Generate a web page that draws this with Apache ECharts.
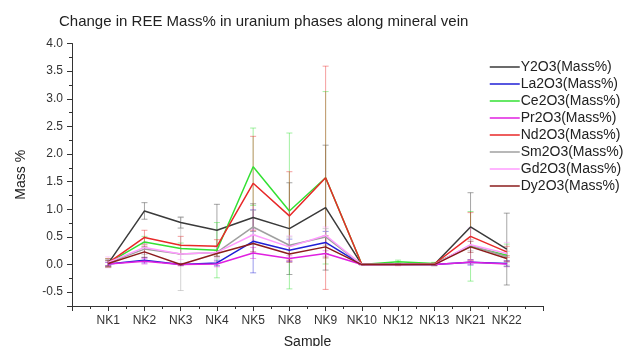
<!DOCTYPE html>
<html>
<head>
<meta charset="utf-8">
<script src="https://cdn.jsdelivr.net/npm/echarts@6/dist/echarts.min.js"></script>
<style>html,body{margin:0;padding:0;background:#fff}#c{width:635px;height:346px}</style>
</head>
<body>
<div id="c"></div>
<script>
const categories = ['NK1','NK2','NK3','NK4','NK5','NK8','NK9','NK10','NK12','NK13','NK21','NK22'];
const seriesNames = ['Y2O3(Mass%)','La2O3(Mass%)','Ce2O3(Mass%)','Pr2O3(Mass%)','Nd2O3(Mass%)','Sm2O3(Mass%)','Gd2O3(Mass%)','Dy2O3(Mass%)'];

const Y2O3  = [0.02, 0.97, 0.76, 0.62, 0.85, 0.65, 1.03, 0, 0, 0, 0.68, 0.28];
const Y2O3Err = [0.06, 0.15, 0.10, 0.47, 0.25, 0.83, 1.13, 0, 0.01, 0.02, 0.62, 0.65];
const La2O3 = [0.01, 0.08, 0.00, 0.03, 0.42, 0.26, 0.40, 0, 0, 0, 0.04, 0.02];
const La2O3Err = [0.03, 0.05, 0, 0.05, 0.57, 0.20, 0.20, 0, 0, 0, 0.05, 0.05];
const Ce2O3 = [0.03, 0.41, 0.29, 0.26, 1.77, 0.97, 1.57, 0, 0.05, 0.02, 0.33, 0.17];
const Ce2O3Err = [0.08, 0.10, 0.10, 0.50, 0.70, 1.41, 1.56, 0, 0.03, 0.02, 0.63, 0.20];
const Pr2O3 = [0.01, 0.06, 0.00, 0.01, 0.21, 0.11, 0.20, 0, 0, 0, 0.04, 0.01];
const Pr2O3Err = [0.03, 0.05, 0.02, 0.05, 0.10, 0.05, 0.05, 0, 0, 0, 0.04, 0.05];
const Nd2O3 = [0.03, 0.49, 0.35, 0.33, 1.47, 0.88, 1.57, 0, 0, 0.01, 0.51, 0.23];
const Nd2O3Err = [0.08, 0.13, 0.16, 0.12, 0.85, 0.80, 2.02, 0, 0.02, 0.02, 0.43, 0.10];
const Sm2O3 = [0.03, 0.28, 0.19, 0.22, 0.68, 0.35, 0.50, 0, 0, 0, 0.35, 0.14];
const Sm2O3Err = [0.06, 0.10, 0.66, 0.10, 0.30, 0.15, 0.15, 0, 0, 0, 0.10, 0.10];
const Gd2O3 = [0.04, 0.31, 0.19, 0.22, 0.54, 0.32, 0.53, 0, 0, 0, 0.36, 0.20];
const Gd2O3Err = [0.10, 0.10, 0.10, 0.10, 0.10, 0.20, 0.15, 0, 0, 0, 0.30, 0.20];
const Dy2O3 = [0.02, 0.23, 0.00, 0.20, 0.38, 0.19, 0.32, 0, 0, 0, 0.32, 0.11];
const Dy2O3Err = [0.05, 0.10, 0.02, 0.05, 0.15, 0.15, 0.20, 0, 0.01, 0.02, 0.10, 0.05];

const values = [Y2O3, La2O3, Ce2O3, Pr2O3, Nd2O3, Sm2O3, Gd2O3, Dy2O3];
const errors = [Y2O3Err, La2O3Err, Ce2O3Err, Pr2O3Err, Nd2O3Err, Sm2O3Err, Gd2O3Err, Dy2O3Err];
const colors = ['#3a3a3a', '#1f1fd6', '#33e033', '#e020e0', '#e82828', '#a0a0a0', '#ff9cff', '#8b1c1c'];

const FONT = '"Liberation Sans", Arial, sans-serif';
const chart = echarts.init(document.getElementById('c'), null, {renderer: 'canvas'});

const series = [];
values.forEach((vals, si) => {
  const errData = vals.map((v, i) => [i + 1, v - errors[si][i], v + errors[si][i]]);
  series.push({
    name: seriesNames[si] + ' err',
    type: 'custom',
    data: errData,
    z: 1,
    silent: true,
    renderItem: function (params, api) {
      const x = api.value(0);
      const lo = api.coord([x, api.value(1)]);
      const hi = api.coord([x, api.value(2)]);
      const cw = 3;
      const st = {stroke: colors[si], lineWidth: 1, opacity: 0.45};
      return {
        type: 'group',
        children: [
          {type: 'line', shape: {x1: lo[0], y1: lo[1], x2: hi[0], y2: hi[1]}, style: st},
          {type: 'line', shape: {x1: lo[0] - cw, y1: lo[1], x2: lo[0] + cw, y2: lo[1]}, style: st},
          {type: 'line', shape: {x1: hi[0] - cw, y1: hi[1], x2: hi[0] + cw, y2: hi[1]}, style: st}
        ]
      };
    }
  });
});
values.forEach((vals, si) => {
  series.push({
    name: seriesNames[si],
    type: 'line',
    data: vals.map((v, i) => [i + 1, v]),
    symbol: 'none',
    z: 3,
    color: colors[si],
    lineStyle: {color: colors[si], width: 1.5},
    itemStyle: {color: colors[si]}
  });
});

chart.setOption({
  animation: false,
  backgroundColor: '#fff',
  title: {
    text: 'Change in REE Mass% in uranium phases along mineral vein',
    left: 54, top: 9,
    textStyle: {fontFamily: FONT, fontSize: 15, fontWeight: 'normal', color: '#222'}
  },
  legend: {
    data: seriesNames.map((n, i) => ({
      name: n,
      itemStyle: {color: 'rgba(0,0,0,0)', opacity: 0, borderWidth: 0},
      lineStyle: {color: colors[i], width: 1.5}
    })),
    orient: 'vertical',
    left: 484, top: 55,
    itemWidth: 30, itemHeight: 13, itemGap: 3,
    textStyle: {fontFamily: FONT, fontSize: 14, color: '#222', padding: [0, 0, 0, -4]}
  },
  grid: {left: 72, right: 92, top: 43.5, bottom: 40, containLabel: false, outerBoundsMode: 'none'},
  xAxis: {
    type: 'value',
    min: 0, max: 13, interval: 1,
    name: 'Sample',
    nameLocation: 'middle',
    nameGap: 29,
    nameTextStyle: {fontFamily: FONT, fontSize: 14, color: '#222'},
    axisLine: {show: true, onZero: false, lineStyle: {color: '#333', width: 1}},
    axisTick: {show: true, inside: false, length: 5, lineStyle: {color: '#333'}},
    minorTick: {show: true, splitNumber: 2, length: 3, lineStyle: {color: '#333'}},
    splitLine: {show: false},
    axisLabel: {
      fontFamily: FONT, fontSize: 12, color: '#333', margin: 9,
      formatter: v => (v >= 1 && v <= categories.length) ? categories[v - 1] : ''
    }
  },
  yAxis: {
    type: 'value',
    min: -0.75, max: 4, splitNumber: 10,
    name: 'Mass %',
    nameLocation: 'middle',
    nameGap: 44,
    nameTextStyle: {fontFamily: FONT, fontSize: 14, color: '#222'},
    axisLine: {show: true, onZero: false, lineStyle: {color: '#333', width: 1}},
    axisTick: {show: true, inside: false, length: 5, lineStyle: {color: '#333'}},
    minorTick: {show: true, splitNumber: 2, length: 3, lineStyle: {color: '#333'}},
    splitLine: {show: false},
    axisLabel: {
      fontFamily: FONT, fontSize: 12, color: '#333', margin: 9,
      formatter: v => (Math.abs(v * 2 - Math.round(v * 2)) < 1e-6) ? v.toFixed(1) : ''
    }
  },
  series: series
});
</script>
</body>
</html>
